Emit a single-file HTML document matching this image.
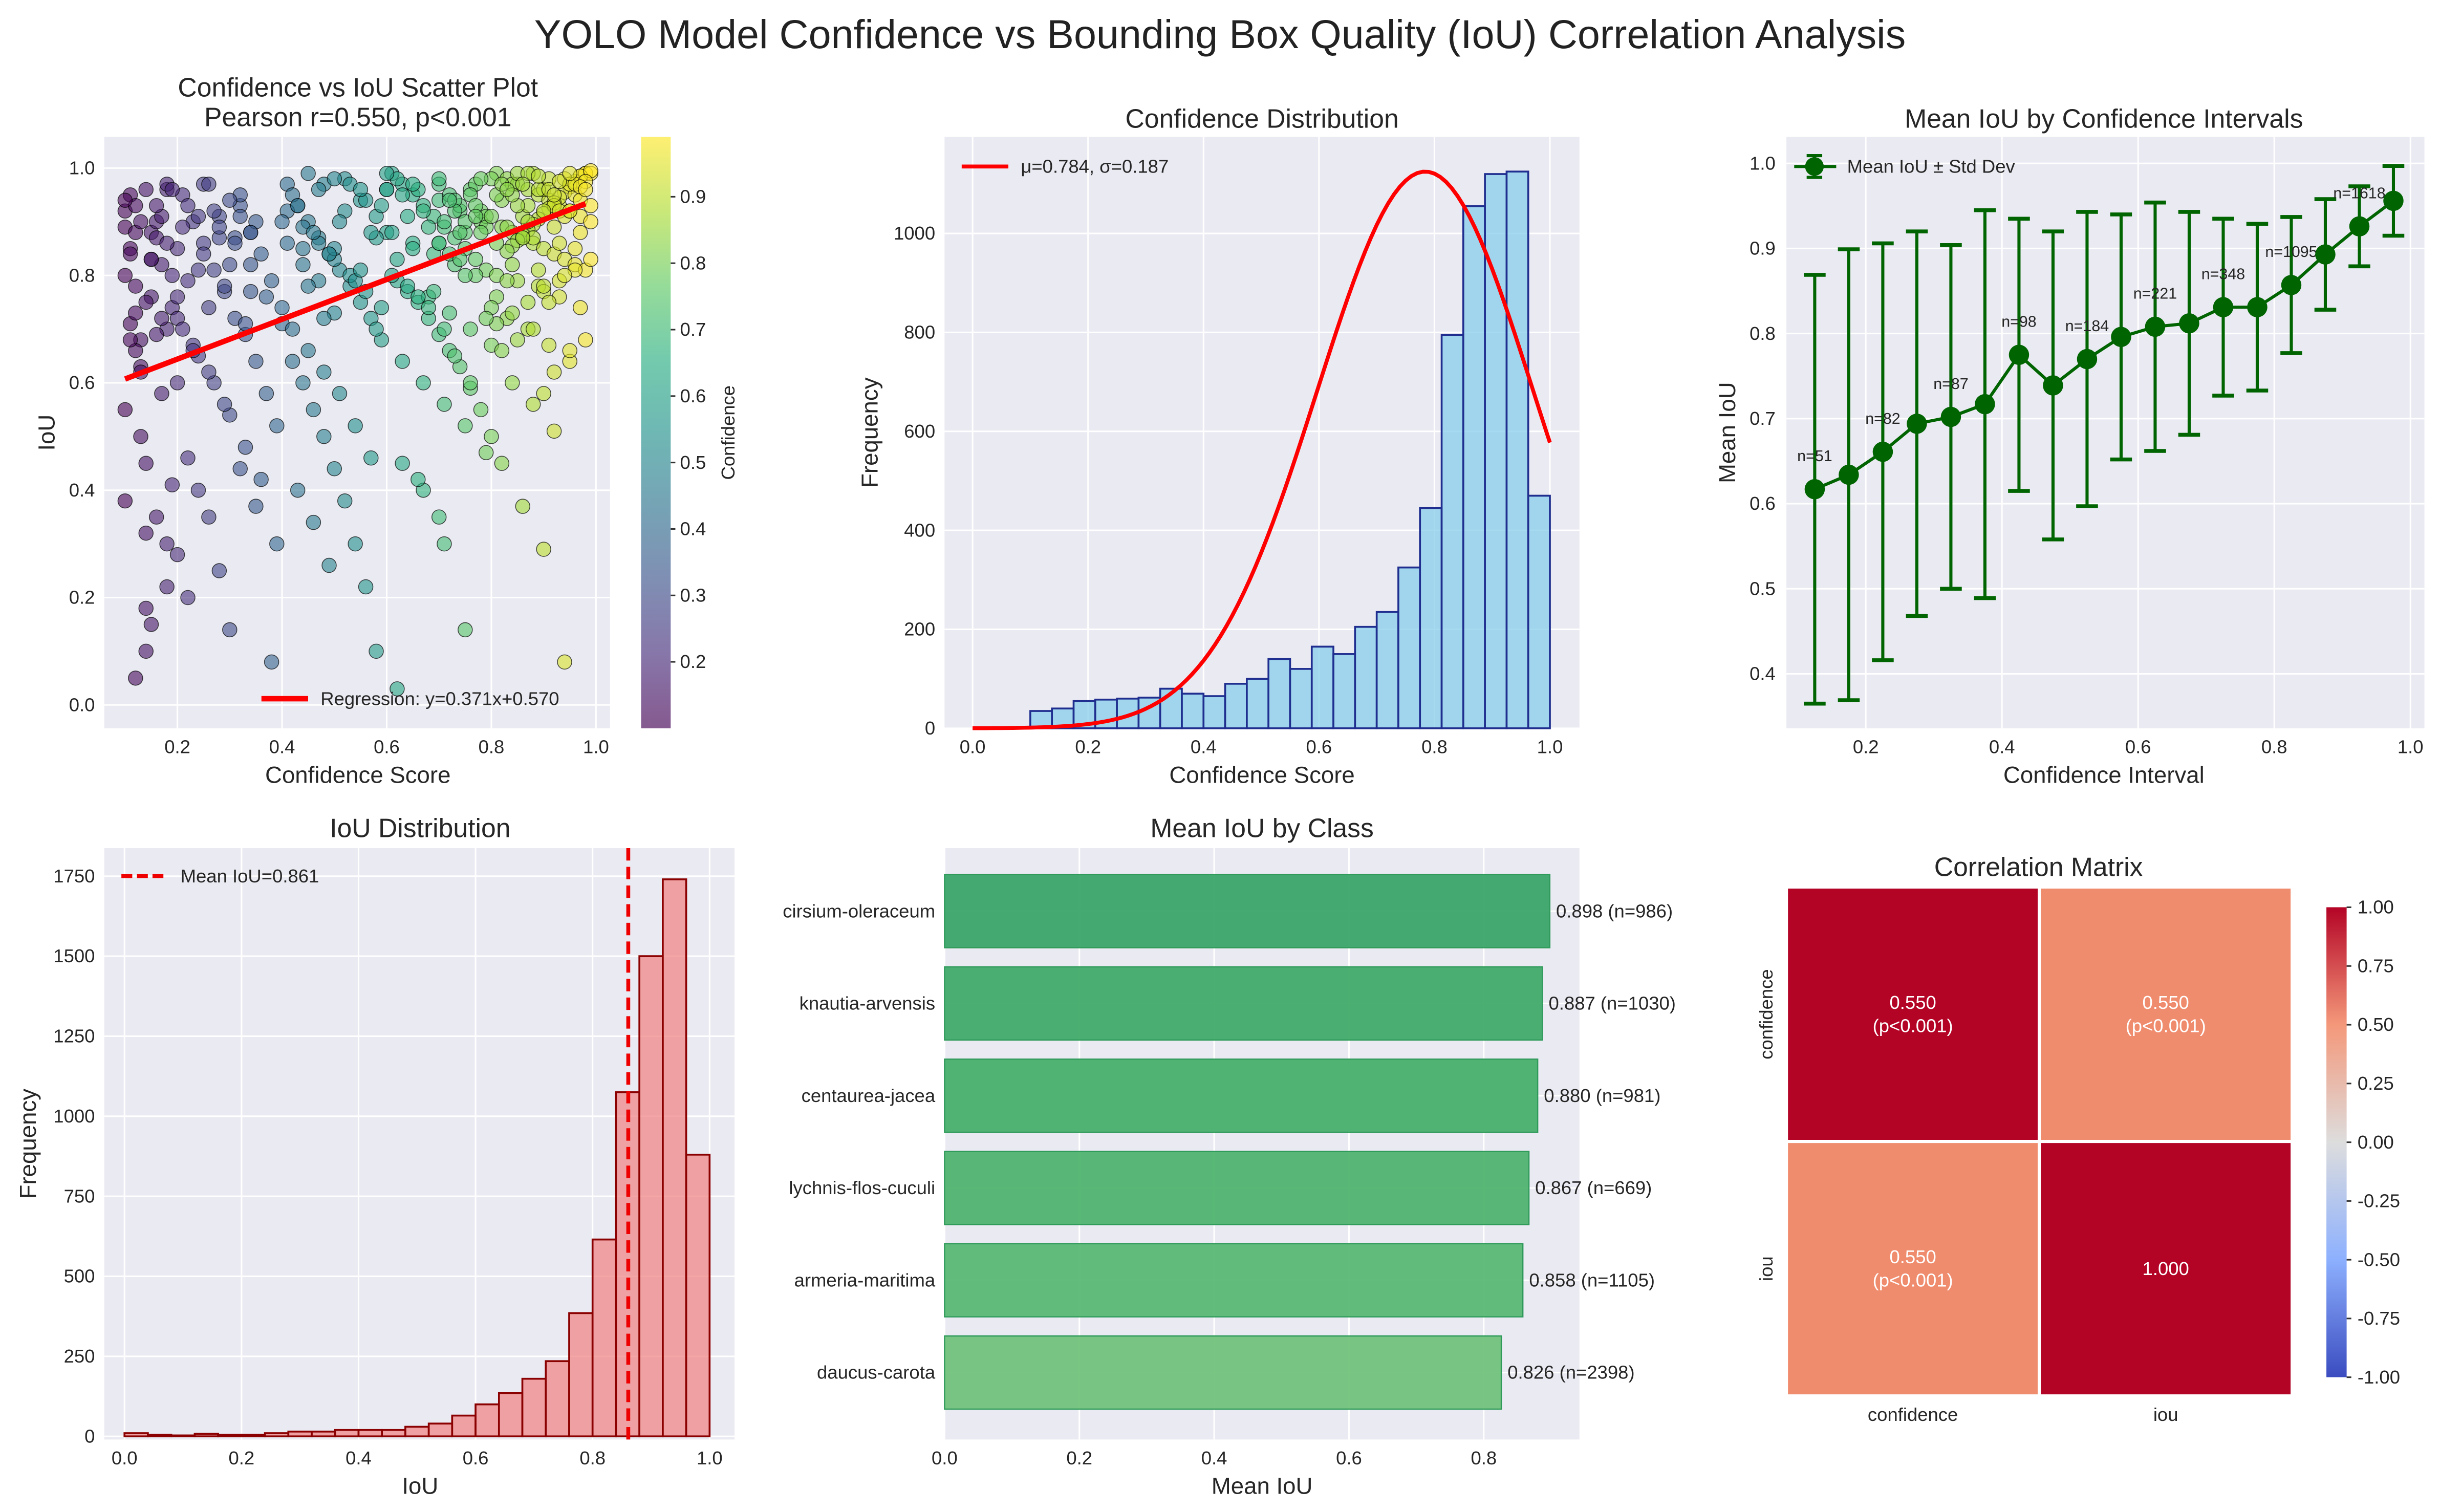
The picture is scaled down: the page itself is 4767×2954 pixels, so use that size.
<!DOCTYPE html>
<html><head><meta charset="utf-8"><style>
html,body{margin:0;padding:0;background:#fff;}
svg{display:block;font-family:"Liberation Sans",sans-serif;}
</style></head><body>
<svg id="fig" xmlns="http://www.w3.org/2000/svg" width="4767" height="2954" viewBox="0 0 1568 971.6" preserveAspectRatio="none">
<defs>
<linearGradient id="viridis" x1="0" y1="1" x2="0" y2="0">
<stop offset="0" stop-color="#440154"/><stop offset="0.125" stop-color="#472d7b"/><stop offset="0.25" stop-color="#3b528b"/><stop offset="0.375" stop-color="#2c728e"/><stop offset="0.5" stop-color="#21918c"/><stop offset="0.625" stop-color="#28ae80"/><stop offset="0.75" stop-color="#5ec962"/><stop offset="0.875" stop-color="#addc30"/><stop offset="1" stop-color="#fde725"/>
</linearGradient>
<linearGradient id="coolwarm" x1="0" y1="1" x2="0" y2="0">
<stop offset="0" stop-color="#3b4cc0"/><stop offset="0.25" stop-color="#8db0fe"/><stop offset="0.5" stop-color="#dddddd"/><stop offset="0.75" stop-color="#f4987a"/><stop offset="1" stop-color="#b40426"/>
</linearGradient>
</defs>
<text x="784" y="31" font-size="26" text-anchor="middle" fill="#222">YOLO Model Confidence vs Bounding Box Quality (IoU) Correlation Analysis</text>
</svg>
<script>
// ===== DATA =====
const scatterConf = [
.10,.11,.12,.13,.10,.14,.18,.12,.15,.11,.16,.17,.19,.13,.20,.14,.10,.18,.15,.12,.16,.19,.11,.17,.13,.20,.14,.18,.10,.15,.12,.19,.16,.11,.17,.20,.13,.14,.18,.15,
.21,.23,.25,.27,.29,.31,.33,.35,.37,.39,.22,.24,.26,.28,.30,.32,.34,.36,.38,.40,.21,.24,.27,.30,.33,.36,.39,.22,.25,.28,.31,.34,.37,.40,.23,.26,.29,.32,.35,.38,
.41,.43,.45,.47,.49,.51,.53,.55,.57,.59,.42,.44,.46,.48,.50,.52,.54,.56,.58,.60,.41,.44,.47,.50,.53,.56,.59,.42,.45,.48,.51,.54,.57,.43,.46,.49,.52,.55,.58,.60,.44,.47,.50,
.61,.63,.65,.67,.69,.71,.73,.75,.77,.79,.62,.64,.66,.68,.70,.72,.74,.76,.78,.80,.63,.67,.71,.75,.62,.66,.70,.74,.78,.61,.65,.69,.73,.77,.64,.68,.72,.76,.80,.63,.67,.71,.75,.79,.66,.70,.62,
.81,.83,.85,.87,.89,.91,.93,.95,.97,.99,.82,.84,.86,.88,.90,.92,.94,.96,.98,.81,.85,.89,.93,.97,.83,.87,.91,.95,.84,.88,.92,.82,.86,.90,.94,.98,.97,.96,.95,.94,.93,.92,.91,.90,.89,.88,.87,.86,.85,.84,.83,.99,.96,.93,.90,.87,.84,.81,.98,.95,.92,
.70,.72,.74,.76,.78,.80,.82,.84,.86,.88,.90,.92,.94,.96,.98,.71,.73,.75,.77,.79,.81,.83,.85,.87,.89,.91,.93,.95,.97,.99,.70,.73,.76,.79,.82,.85,.88,.91,.94,.97,.72,.75,.78,.81,.84,.87,.90,.93,.96,.99,.74,.77,.80,.83,.86,.89,.92,.95,.98,.97,
.10,.12,.14,.16,.18,.20,.22,.24,.26,.28,.30,.32,.34,.11,.13,.15,.17,.19,.21,.23,.25,.27,.29,.31,.33,.35,.10,.14,.18,.22,.26,.30,.34,.12,.16,.20,.24,.28,.32,
.40,.42,.44,.46,.48,.50,.52,.54,.56,.58,.60,.62,.64,.66,.68,.70,.41,.43,.45,.47,.49,.51,.53,.55,.57,.59,.61,.63,.65,.67,.69,.45,.50,.55,.60,.65,.70,.48,.58,.68,
.72,.75,.78,.81,.84,.87,.90,.93,.96,.99,.71,.74,.77,.80,.83,.86,.89,.92,.95,.98,.73,.79,.85,.91,.97,.76,.82,.88,.94,.90];
const scatterIou = [
.92,.85,.78,.63,.55,.32,.22,.05,.88,.95,.90,.82,.74,.68,.60,.45,.38,.30,.15,.93,.87,.80,.71,.58,.50,.28,.10,.96,.89,.76,.66,.41,.35,.84,.91,.72,.62,.18,.97,.83,
.95,.90,.86,.81,.77,.72,.69,.64,.58,.52,.46,.40,.35,.25,.14,.93,.88,.84,.79,.74,.70,.65,.60,.54,.48,.42,.30,.20,.97,.91,.87,.82,.76,.71,.67,.62,.56,.44,.37,.08,
.97,.93,.90,.87,.84,.81,.78,.75,.72,.68,.64,.60,.55,.50,.44,.38,.30,.22,.10,.96,.92,.89,.86,.83,.80,.77,.74,.70,.66,.62,.58,.52,.46,.40,.34,.26,.98,.94,.91,.88,.85,.79,.73,
.99,.97,.95,.93,.91,.89,.87,.85,.83,.81,.79,.77,.75,.72,.69,.66,.63,.59,.55,.50,.45,.40,.30,.14,.98,.96,.94,.92,.90,.88,.86,.84,.82,.80,.78,.76,.73,.70,.67,.64,.60,.56,.52,.47,.42,.35,.03,
.99,.98,.97,.96,.95,.94,.93,.92,.91,.90,.89,.88,.87,.86,.85,.84,.83,.82,.81,.80,.79,.78,.76,.74,.72,.70,.67,.64,.60,.56,.51,.45,.37,.29,.08,.99,.985,.975,.965,.955,.945,.935,.925,.915,.905,.895,.885,.875,.865,.855,.845,.83,.81,.79,.77,.75,.73,.71,.68,.66,.62,
.97,.95,.93,.96,.92,.98,.94,.97,.91,.99,.96,.93,.98,.95,.99,.90,.94,.88,.97,.91,.95,.89,.99,.93,.96,.98,.92,.97,.94,.99,.86,.92,.95,.89,.97,.93,.87,.96,.91,.985,.94,.90,.98,.86,.95,.99,.92,.975,.97,.995,.88,.93,.91,.96,.97,.985,.95,.99,.975,.965,
.80,.88,.75,.93,.70,.85,.79,.91,.74,.87,.82,.95,.77,.68,.90,.83,.72,.96,.89,.66,.84,.92,.78,.86,.71,.90,.94,.96,.86,.93,.97,.94,.88,.73,.69,.76,.81,.89,.91,
.90,.95,.82,.88,.97,.85,.92,.79,.94,.87,.96,.83,.91,.76,.89,.98,.86,.93,.78,.96,.84,.90,.97,.81,.88,.93,.80,.95,.85,.92,.77,.99,.98,.96,.99,.97,.86,.72,.70,.74,
.84,.80,.88,.76,.82,.90,.78,.86,.85,.93,.70,.83,.91,.74,.79,.87,.81,.89,.92,.96,.65,.72,.68,.75,.88,.60,.66,.70,.80,.58];
const regSlope = 0.371, regIntercept = 0.570;

const confBinStart = 0.1, confBinWidth = 0.0375;
const confCounts = [35,40,55,58,60,62,80,70,65,90,100,140,120,165,150,205,235,325,445,795,1055,1120,1125,470];
const confMu = 0.784, confSigma = 0.187, confPeak = 1125;

const intervalCenters = [0.125,0.175,0.225,0.275,0.325,0.375,0.425,0.475,0.525,0.575,0.625,0.675,0.725,0.775,0.825,0.875,0.925,0.975];
const intervalMeans = [0.617,0.634,0.661,0.694,0.702,0.717,0.775,0.739,0.770,0.796,0.808,0.812,0.831,0.831,0.857,0.893,0.926,0.956];
const intervalStds = [0.252,0.265,0.245,0.226,0.202,0.228,0.160,0.181,0.173,0.144,0.146,0.131,0.104,0.098,0.080,0.065,0.047,0.041];
const intervalN = ["n=51","","n=82","","n=87","","n=98","","n=184","","n=221","","n=348","","n=1095","","n=1618",""];

const iouBinWidth = 0.04;
const iouCounts = [10,5,3,8,5,5,10,15,15,20,20,20,30,40,65,100,135,180,235,385,615,1075,1500,1740,880];
const iouMean = 0.861;

const classNames = ["cirsium-oleraceum","knautia-arvensis","centaurea-jacea","lychnis-flos-cuculi","armeria-maritima","daucus-carota"];
const classMeans = [0.898,0.887,0.880,0.867,0.858,0.826];
const classN = [986,1030,981,669,1105,2398];

const corrLabels = ["confidence","iou"];
const corrValues = [[1.000,0.550],[0.550,1.000]];
const corrText = [["0.550\n(p<0.001)","0.550\n(p<0.001)"],["0.550\n(p<0.001)","1.000"]];

// ===== HELPERS =====
const NS="http://www.w3.org/2000/svg";
const svg=document.getElementById('fig');
function mk(tag,attrs,parent){const e=document.createElementNS(NS,tag);for(const k in attrs)e.setAttribute(k,attrs[k]);(parent||svg).appendChild(e);return e;}
function txt(s,x,y,size,anchor,parent,extra){const e=mk('text',Object.assign({x:x,y:y,'font-size':size,'text-anchor':anchor||'middle',fill:'#262626'},extra||{}),parent);e.textContent=s;return e;}
function lin(d0,d1,p0,p1){return v=>p0+(v-d0)/(d1-d0)*(p1-p0);}
function axesBg(x,y,w,h,name){const r=mk('rect',{x:x,y:y,width:w,height:h,fill:'#eaeaf2'});return r;}
function gridV(X,vals,y0,y1){vals.forEach(v=>mk('line',{x1:X(v),x2:X(v),y1:y0,y2:y1,stroke:'#fff','stroke-width':1}));}
function gridH(Y,vals,x0,x1){vals.forEach(v=>mk('line',{x1:x0,x2:x1,y1:Y(v),y2:Y(v),stroke:'#fff','stroke-width':1}));}
function lerpHex(a,b,t){const pa=[1,3,5].map(i=>parseInt(a.substr(i,2),16)),pb=[1,3,5].map(i=>parseInt(b.substr(i,2),16));return 'rgb('+pa.map((v,i)=>Math.round(v+(pb[i]-v)*t)).join(',')+')';}
const vir=['#440154','#472d7b','#3b528b','#2c728e','#21918c','#28ae80','#5ec962','#addc30','#fde725'];
function viridis(t){t=Math.max(0,Math.min(1,t));const s=t*8,i=Math.min(7,Math.floor(s));return lerpHex(vir[i],vir[i+1],s-i);}

// ===== PANEL 1: scatter =====
(function(){
const X=lin(0.2,1.0,114,383), Y=lin(0,1,453,108);
axesBg(67,88,325,380,'scatter-axes');
gridV(X,[0.2,0.4,0.6,0.8,1.0],88,468);gridH(Y,[0,0.2,0.4,0.6,0.8,1.0],67,392);
const cmin=0.1,cmax=0.99;
for(let i=0;i<scatterConf.length;i++){
  const c=mk('circle',{cx:X(scatterConf[i]),cy:Y(scatterIou[i]),r:4.6,fill:viridis((scatterConf[i]-cmin)/(cmax-cmin)),'fill-opacity':0.6,stroke:'#000','stroke-width':0.5,'stroke-opacity':0.7});
  
  
}
const rl=mk('line',{x1:X(0.1),y1:Y(regSlope*0.1+regIntercept),x2:X(0.98),y2:Y(regSlope*0.98+regIntercept),stroke:'#ff0000','stroke-width':3.5});

[0.2,0.4,0.6,0.8,1.0].forEach(v=>txt(v.toFixed(1),X(v),484,12));
[0,0.2,0.4,0.6,0.8,1.0].forEach(v=>txt(v.toFixed(1),61,Y(v)+4,12,'end'));
const xl=txt('Confidence Score',230,503,15);
const yl=txt('IoU',0,0,15,'middle',null,{transform:'translate(35,278) rotate(-90)'});
const t1=txt('Confidence vs IoU Scatter Plot',230,62,17);
txt('Pearson r=0.550, p<0.001',230,81,17);
const lg=mk('line',{x1:168,x2:198,y1:449,y2:449,stroke:'#ff0000','stroke-width':3.5});
txt('Regression: y=0.371x+0.570',206,453,12,'start');
const cb=mk('rect',{x:412,y:88,width:19,height:380,fill:'url(#viridis)','fill-opacity':0.65});
const CY=lin(cmin,cmax,468,88);
[0.2,0.3,0.4,0.5,0.6,0.7,0.8,0.9].forEach(v=>{mk('line',{x1:431,x2:434,y1:CY(v),y2:CY(v),stroke:'#333'});txt(v.toFixed(1),437,CY(v)+4,12,'start');});
const cl=txt('Confidence',0,0,12,'middle',null,{transform:'translate(472,278) rotate(-90)'});
})();

// ===== PANEL 2: confidence histogram =====
(function(){
const X=lin(0,1,625,996), Y=lin(0,1000,468,150);
axesBg(607,88,408,380,'confidence-hist-axes');
gridV(X,[0,0.2,0.4,0.6,0.8,1.0],88,468);gridH(Y,[0,200,400,600,800,1000],607,1015);
confCounts.forEach((c,i)=>{const x0=confBinStart+i*confBinWidth;
  const r=mk('rect',{x:X(x0),y:Y(c),width:X(x0+confBinWidth)-X(x0),height:Y(0)-Y(c),fill:'#87ceeb','fill-opacity':0.75,stroke:'#1f2e8f','stroke-width':1.2});
  
  });
let d='';for(let k=0;k<=100;k++){const x=k/100;const y=confPeak*Math.exp(-Math.pow(x-confMu,2)/(2*confSigma*confSigma));d+=(k?'L':'M')+X(x).toFixed(2)+','+Y(y).toFixed(2);}
const p=mk('path',{d:d,fill:'none',stroke:'#ff0000','stroke-width':2.5});
[0,0.2,0.4,0.6,0.8,1.0].forEach(v=>txt(v.toFixed(1),X(v),484,12));
[0,200,400,600,800,1000].forEach(v=>txt(String(v),601,Y(v)+4,12,'end'));
txt('Confidence Score',811,503,15);
txt('Frequency',0,0,15,'middle',null,{transform:'translate(564,278) rotate(-90)'});
const t=txt('Confidence Distribution',811,82,17);
mk('line',{x1:618,x2:648,y1:107,y2:107,stroke:'#ff0000','stroke-width':2.5});
txt('μ=0.784, σ=0.187',656,111,12,'start');
})();

// ===== PANEL 3: errorbar =====
(function(){
const X=lin(0.2,1.0,1199,1549), Y=lin(0.4,1.0,433,105);
axesBg(1148,88,410,380,'interval-axes');
gridV(X,[0.2,0.4,0.6,0.8,1.0],88,468);gridH(Y,[0.4,0.5,0.6,0.7,0.8,0.9,1.0],1148,1558);
const col='#006400';
intervalCenters.forEach((c,i)=>{const x=X(c),m=intervalMeans[i],s=intervalStds[i];
  const eb=mk('line',{x1:x,x2:x,y1:Y(m-s),y2:Y(m+s),stroke:col,'stroke-width':2});
  
  
  mk('line',{x1:x-7,x2:x+7,y1:Y(m-s),y2:Y(m-s),stroke:col,'stroke-width':2.5});
  mk('line',{x1:x-7,x2:x+7,y1:Y(m+s),y2:Y(m+s),stroke:col,'stroke-width':2.5});});
let d='';intervalCenters.forEach((c,i)=>{d+=(i?'L':'M')+X(c)+','+Y(intervalMeans[i]);});
const ln=mk('path',{d:d,fill:'none',stroke:col,'stroke-width':2});
intervalCenters.forEach((c,i)=>{const pt=mk('circle',{cx:X(c),cy:Y(intervalMeans[i]),r:6.5,fill:col});
  
  
  if(intervalN[i])txt(intervalN[i],X(c),Y(intervalMeans[i])-18,10);});
[0.2,0.4,0.6,0.8,1.0].forEach(v=>txt(v.toFixed(1),X(v),484,12));
[0.4,0.5,0.6,0.7,0.8,0.9,1.0].forEach(v=>txt(v.toFixed(1),1141,Y(v)+4,12,'end'));
txt('Confidence Interval',1352,503,15);
txt('Mean IoU',0,0,15,'middle',null,{transform:'translate(1115,278) rotate(-90)'});
const t=txt('Mean IoU by Confidence Intervals',1352,82,17);
mk('line',{x1:1153,x2:1180,y1:107,y2:107,stroke:col,'stroke-width':2});
mk('line',{x1:1166,x2:1166,y1:100,y2:114,stroke:col,'stroke-width':2});
mk('line',{x1:1161,x2:1171,y1:100,y2:100,stroke:col,'stroke-width':2});
mk('line',{x1:1161,x2:1171,y1:114,y2:114,stroke:col,'stroke-width':2});
mk('circle',{cx:1166,cy:107,r:6,fill:col});
txt('Mean IoU ± Std Dev',1187,111,12,'start');
})();

// ===== PANEL 4: IoU histogram =====
(function(){
const X=lin(0,1,80,456), Y=lin(0,1750,923,563);
axesBg(67,545,405,380,'iou-hist-axes');
gridV(X,[0,0.2,0.4,0.6,0.8,1.0],545,925);gridH(Y,[0,250,500,750,1000,1250,1500,1750],67,472);
iouCounts.forEach((c,i)=>{const x0=i*iouBinWidth;
  const r=mk('rect',{x:X(x0),y:Y(c),width:X(x0+iouBinWidth)-X(x0),height:Y(0)-Y(c),fill:'#f08080','fill-opacity':0.7,stroke:'#8b0000','stroke-width':1.2});
  
  });
const ml=mk('line',{x1:X(iouMean),x2:X(iouMean),y1:545,y2:925,stroke:'#ee0000','stroke-width':2.5,'stroke-dasharray':'8,4'});

[0,0.2,0.4,0.6,0.8,1.0].forEach(v=>txt(v.toFixed(1),X(v),941,12));
[0,250,500,750,1000,1250,1500,1750].forEach(v=>txt(String(v),61,Y(v)+4,12,'end'));
txt('IoU',270,960,15);
txt('Frequency',0,0,15,'middle',null,{transform:'translate(23,735) rotate(-90)'});
const t=txt('IoU Distribution',270,538,17);
mk('line',{x1:78,x2:106,y1:563,y2:563,stroke:'#ee0000','stroke-width':2.5,'stroke-dasharray':'7,3'});
txt('Mean IoU=0.861',116,567,12,'start');
})();

// ===== PANEL 5: class bars =====
(function(){
const X=lin(0,0.8,607,953.5);
axesBg(607,545,408,380,'class-axes');
gridV(X,[0,0.2,0.4,0.6,0.8],545,925);
const rowH=59.3, top=585.5;
const cols=['#3aa569','#41ab6a','#48af6c','#50b46f','#5ab874','#72c27b'];
classNames.forEach((n,i)=>{const cy=top+i*rowH;
  mk('line',{x1:607,x2:1015,y1:cy,y2:cy,stroke:'#fff','stroke-width':1});
  const r=mk('rect',{x:X(0),y:cy-23.5,width:X(classMeans[i])-X(0),height:47,fill:cols[i],'fill-opacity':0.95,stroke:'#2f9a5a','stroke-width':0.8});
  
  
  txt(n,601,cy+4,12,'end');
  txt(classMeans[i].toFixed(3)+' (n='+classN[i]+')',X(classMeans[i])+4,cy+4,12,'start');});
[0,0.2,0.4,0.6,0.8].forEach(v=>txt(v.toFixed(1),X(v),941,12));
txt('Mean IoU',811,960,15);
const t=txt('Mean IoU by Class',811,538,17);
})();

// ===== PANEL 6: correlation heatmap =====
(function(){
const x0=1148,y0=570,cw=162.5,ch=163.5;
function cw_col(v){return v>=0.99?'#b40426':'#f08c6e';}
for(let r=0;r<2;r++)for(let c=0;c<2;c++){
  const cell=mk('rect',{x:x0+c*cw,y:y0+r*ch,width:cw,height:ch,fill:cw_col(corrValues[r][c]),stroke:'#fff','stroke-width':2});
  
  
  const lines=corrText[r][c].split('\n');const cx=x0+c*cw+cw/2,cy=y0+r*ch+ch/2;
  lines.forEach((s,k)=>txt(s,cx,cy+4+(k-(lines.length-1)/2)*15,12,'middle',null,{fill:'#ffffff'}));}
corrLabels.forEach((l,i)=>{txt(l,x0+i*cw+cw/2,913,12);txt(l,0,0,12,'middle',null,{transform:'translate('+(1139)+','+(y0+i*ch+ch/2)+') rotate(-90)'});});
const t=txt('Correlation Matrix',1310,563,17);
const cb=mk('rect',{x:1495,y:583,width:13,height:302,fill:'url(#coolwarm)'});
const CY=lin(-1,1,885,583);
[-1,-0.75,-0.5,-0.25,0,0.25,0.5,0.75,1].forEach(v=>{mk('line',{x1:1508,x2:1511,y1:CY(v),y2:CY(v),stroke:'#333'});txt(v.toFixed(2),1515,CY(v)+4,12,'start');});
})();
</script>
</body></html>
